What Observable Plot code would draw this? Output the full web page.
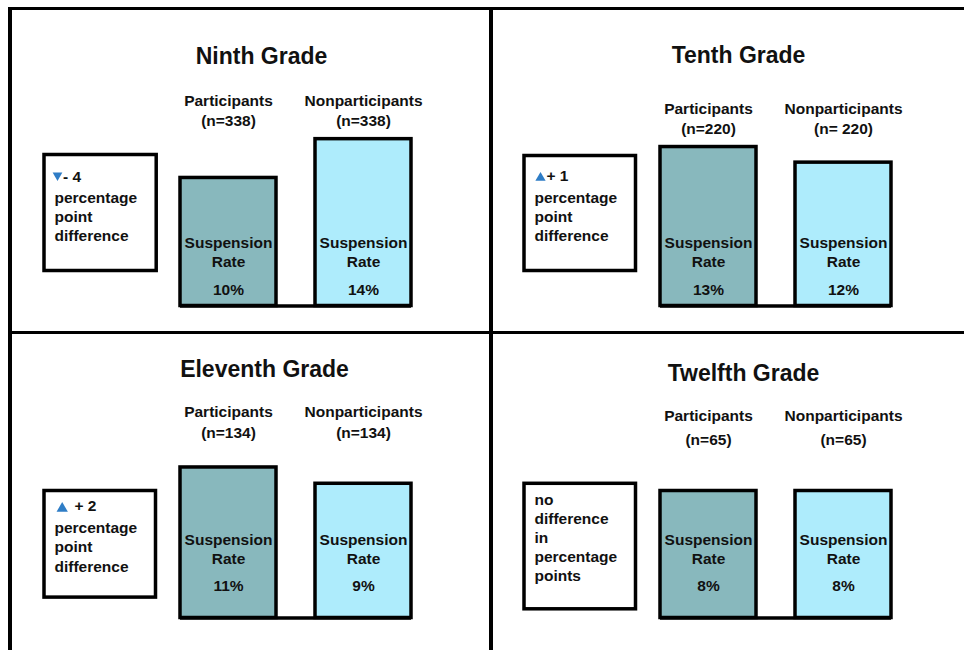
<!DOCTYPE html>
<html>
<head>
<meta charset="utf-8">
<script src="https://cdn.jsdelivr.net/npm/d3@7"></script>
<script src="https://cdn.jsdelivr.net/npm/@observablehq/plot@0.6"></script>
<style>
  body { margin: 0; background: #fff; }
  #chart { position: relative; width: 964px; height: 650px; overflow: hidden; background: #fff; }
  .line { position: absolute; background: #000; }
</style>
</head>
<body>
<div id="chart"></div>
<script>
// ---- data ----
const grades = ["Ninth Grade", "Tenth Grade", "Eleventh Grade", "Twelfth Grade"];
const groups = ["Participants", "Nonparticipants"];
const participantN = ["338", "220", "134", "65"];
const nonparticipantN = ["338", " 220", "134", "65"];
const participantRate = [10, 13, 11, 8];
const nonparticipantRate = [14, 12, 9, 8];
const barLabel = "Suspension\nRate";
const differenceWords = "percentage\npoint\ndifference";
const noDifferenceWords = "no\ndifference\nin\npercentage\npoints";

// ---- styling / layout ----
const font = "'Liberation Sans', Arial, Helvetica, sans-serif";
const small = 15.5, big = 23;
const teal = "#88b8bd", cyan = "#aeecfc", blue = "#2f7dc6";
const W = 484, H = 338, baseY = 305.5, sw = 3.5;

const layout = [
  {left: 0,   top: 0,   lo: -3.2,  slope: 9.7,  titleDx: 19, titleBase: 63,   headBase: 101.5, headLH: 20.5,
   textBase: 245.5, pctBase: 294, box: [43.5, 155.7, 154, 270],
   markX: 57, markY: 174.8, markR: 3.6, diffX: 62.5, diffBase: 181, wordsBase: 200.5, wordsLH: 19},
  {left: 480, top: 0,   lo: 2.81,  slope: 15.6, titleDx: 16, titleBase: 62,   headBase: 109.5, headLH: 20.5,
   textBase: 245.5, pctBase: 294, box: [43.5, 155.0, 155, 270],
   markX: 60, markY: 177.4, markR: 3.8, diffX: 66, diffBase: 180.5, wordsBase: 200.5, wordsLH: 19},
  {left: 0,   top: 312, lo: -7.47, slope: 8.15, titleDx: 22, titleBase: 64.7, headBase: 100.4, headLH: 21,
   textBase: 230.7, pctBase: 278.7, box: [43.5, 155.0, 178, 284.6],
   markX: 61.7, markY: 196, markR: 4.2, diffX: 74, diffBase: 198.7, wordsBase: 217.5, wordsLH: 19.5},
  {left: 480, top: 312, lo: -4.7,  slope: 10,   titleDx: 21, titleBase: 68.7, headBase: 102.5, headLH: 24,
   textBase: 230.7, pctBase: 278.7, box: [43.5, 155.0, 170.8, 296.3],
   markX: 0, markY: 0, markR: 0, diffX: 0, diffBase: 0, wordsBase: 190, wordsLH: 19}
];

const chart = document.getElementById("chart");

// panel border lines
[
  {left: 8.5, top: 6.8, width: 955.5, height: 3.4},
  {left: 8.4, top: 6.8, width: 4, height: 643.2},
  {left: 488.6, top: 6.8, width: 4.4, height: 643.2},
  {left: 8.5, top: 330.8, width: 955.5, height: 3.6}
].forEach(s => {
  const d = document.createElement("div");
  d.className = "line";
  Object.entries(s).forEach(([k, v]) => d.style[k] = v + "px");
  chart.appendChild(d);
});

const textStyle = {fontSize: small, fontWeight: "bold", fill: "#111"};

grades.forEach((grade, i) => {
  const L = layout[i];
  const rows = groups.map((g, j) => ({
    group: g,
    n: j ? nonparticipantN[i] : participantN[i],
    rate: j ? nonparticipantRate[i] : participantRate[i]
  }));
  const diff = participantRate[i] - nonparticipantRate[i];
  const hi = L.lo + baseY / L.slope;

  const marks = [
    Plot.frame({stroke: "black", strokeWidth: sw, fill: "white",
      insetLeft: L.box[0], insetRight: W - L.box[1], insetTop: L.box[2], insetBottom: H - L.box[3]}),
    Plot.ruleY([L.lo], {y: d => d, x1: () => groups[0], x2: () => groups[1], stroke: "black", strokeWidth: sw}),
    Plot.barY(rows, {x: "group", y1: () => L.lo, y2: "rate", fill: "group", stroke: "black", strokeWidth: sw}),
    Plot.text([grade], {text: d => d, frameAnchor: "top", lineAnchor: "top",
      dx: L.titleDx, dy: L.titleBase - 0.71 * big, fontSize: big, fontWeight: "bold", fill: "#111"}),
    Plot.text(rows, {x: "group", text: d => `${d.group}\n(n=${d.n})`, frameAnchor: "top", lineAnchor: "top",
      dy: L.headBase - 0.71 * small, lineHeight: L.headLH / small, ...textStyle}),
    Plot.text(rows, {x: "group", text: () => barLabel, frameAnchor: "top", lineAnchor: "top",
      dy: L.textBase - 0.71 * small, lineHeight: 18.5 / small, ...textStyle}),
    Plot.text(rows, {x: "group", text: d => d.rate + "%", frameAnchor: "top", lineAnchor: "top",
      dy: L.pctBase - 0.71 * small, ...textStyle})
  ];

  if (diff !== 0) {
    marks.push(
      Plot.dot([diff], {frameAnchor: "top-left", dx: L.markX, dy: L.markY, symbol: "triangle",
        rotate: diff < 0 ? 180 : 0, r: L.markR, fill: blue, stroke: "none"}),
      Plot.text([diff], {text: d => (d < 0 ? "- " : "+ ") + Math.abs(d), frameAnchor: "top-left",
        textAnchor: "start", lineAnchor: "top", dx: L.diffX, dy: L.diffBase - 0.71 * small, ...textStyle}),
      Plot.text([differenceWords], {text: d => d, frameAnchor: "top-left", textAnchor: "start", lineAnchor: "top",
        dx: 54, dy: L.wordsBase - 0.71 * small, lineHeight: L.wordsLH / small, ...textStyle})
    );
  } else {
    marks.push(
      Plot.text([noDifferenceWords], {text: d => d, frameAnchor: "top-left", textAnchor: "start", lineAnchor: "top",
        dx: 54, dy: L.wordsBase - 0.71 * small, lineHeight: L.wordsLH / small, ...textStyle})
    );
  }

  const svg = Plot.plot({
    width: W, height: H, margin: 0,
    x: {type: "band", domain: groups, range: [178.75, 411.25], paddingInner: 0.2904, paddingOuter: 0, axis: null},
    y: {domain: [L.lo, hi], range: [baseY, 0], axis: null},
    color: {domain: groups, range: [teal, cyan]},
    style: {fontFamily: font, background: "transparent", overflow: "visible", maxWidth: "none"},
    marks
  });
  svg.style.position = "absolute";
  svg.style.left = L.left + "px";
  svg.style.top = L.top + "px";
  chart.appendChild(svg);
});
</script>
</body>
</html>
